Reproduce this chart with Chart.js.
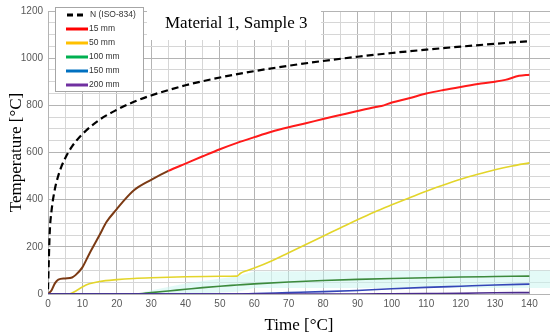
<!DOCTYPE html>
<html>
<head>
<meta charset="utf-8">
<script src="https://cdn.jsdelivr.net/npm/chart.js@4"></script>
<style>
    html, body { margin: 0; padding: 0; background: #fff; }
    #box { width: 550px; height: 336px; }
</style>
</head>
<body>
<div id="box"><canvas id="chart"></canvas></div>
<script>
var seriesNames = ['N (ISO-834)', '15 mm', '50 mm', '100 mm', '150 mm', '200 mm'];
var lineColors = ['#000000', '#ff1a1a', '#e3d52a', '#3c8a3c', '#3446b8', '#4a2a8c'];
var legendColors = ['#000000', '#ff0000', '#ffc000', '#00b050', '#0070c0', '#7030a0'];

var isoTime = [0, 0.5, 1, 2, 3, 4, 5, 7, 10, 15, 20, 25, 30, 40, 50, 60, 70, 80, 90, 100, 110, 120, 130, 140];
var isoTemp = [20, 260, 349, 445, 502, 544, 576, 626, 678, 739, 781, 815, 842, 885, 918, 945, 968, 988, 1006, 1022, 1036, 1049, 1061, 1072];

var t15Time = [0, 1, 2, 3, 5, 7, 8, 10, 12, 15, 17, 20, 22, 25, 30, 35, 40, 45, 50, 55, 60, 65, 70, 75, 80, 85, 90, 95, 97, 100, 105, 110, 115, 120, 125, 130, 133, 137, 140];
var t15Temp = [0, 15, 45, 61, 66, 70, 80, 113, 170, 250, 305, 360, 395, 440, 484, 522, 553, 584, 614, 641, 665, 688, 707, 724, 742, 759, 776, 792, 797, 812, 830, 850, 865, 878, 890, 900, 908, 925, 930];

var t50Time = [0, 6, 8, 10, 12, 15, 20, 25, 30, 40, 50, 55, 56, 58, 60, 65, 70, 75, 80, 85, 90, 95, 100, 105, 110, 115, 120, 125, 130, 135, 140];
var t50Temp = [0, 0, 12, 30, 43, 53, 61, 66, 69, 73, 75, 76, 88, 100, 110, 140, 175, 210, 245, 280, 315, 348, 378, 407, 436, 462, 487, 508, 527, 543, 556];

var t100Time = [0, 25, 30, 35, 40, 45, 50, 55, 60, 70, 80, 90, 100, 110, 120, 130, 140];
var t100Temp = [0, 0, 6, 13, 20, 27, 33, 38, 43, 51, 57, 62, 66, 69, 72, 74, 76];

var t150Time = [0, 55, 60, 70, 80, 90, 100, 110, 120, 130, 140];
var t150Temp = [0, 0, 2, 6, 10, 15, 22, 28, 33, 38, 42];

var t200Time = [0, 90, 100, 110, 120, 130, 140];
var t200Temp = [0, 0, 1, 2, 3, 5, 6];

// faint cyan haze around the 100 mm curve in the scan
var hazeTime = [28, 40, 55, 60, 140, 146];
var hazeTop = [10, 45, 75, 95, 100, 100];
var hazeBottom = [0, 0, 10, 25, 25, 25];

var xTicks = [0, 10, 20, 30, 40, 50, 60, 70, 80, 90, 100, 110, 120, 130, 140];
var yTicks = [0, 200, 400, 600, 800, 1000, 1200];

var chartTitle = 'Material 1, Sample 3';
var xTitle = 'Time [°C]';
var yTitle = 'Temperature [°C]';

function points(xs, ys) {
    return xs.map((x, i) => ({ x: x, y: ys[i] }));
}

var allTimes = [isoTime, t15Time, t50Time, t100Time, t150Time, t200Time];
var allTemps = [isoTemp, t15Temp, t50Temp, t100Temp, t150Temp, t200Temp];

// draw order: thin lines at the bottom, red and iso on top
var datasets = seriesNames.map((name, i) => ({
    label: name,
    data: points(allTimes[i], allTemps[i]),
    borderColor: lineColors[i],
    borderWidth: i == 0 ? 2.2 : (i == 1 ? 2 : 1.6),
    borderDash: i == 0 ? [7, 4] : [],
    pointRadius: 0,
    fill: false,
    cubicInterpolationMode: 'monotone',
    order: i == 5 ? 0 : (i == 0 ? 1 : 6 - i + 1)
}));

// early part of the 15 mm curve looks brown in the picture
datasets[1].segment = {
    borderColor: ctx => ctx.p1.parsed.x <= 35 ? '#7b3a14' : undefined
};

datasets.push({
    label: 'hazeBottom',
    data: points(hazeTime, hazeBottom),
    borderWidth: 0,
    pointRadius: 0,
    fill: false,
    order: 20
});
datasets.push({
    label: 'hazeTop',
    data: points(hazeTime, hazeTop),
    borderWidth: 0,
    pointRadius: 0,
    backgroundColor: 'rgba(200, 245, 240, 0.5)',
    fill: '-1',
    order: 20
});

var boxes = {
    id: 'boxes',
    beforeDatasetsDraw(chart) {
        var ctx = chart.ctx;
        ctx.save();

        // legend box
        ctx.fillStyle = '#fff';
        ctx.fillRect(55, 7, 88, 84);
        ctx.strokeStyle = '#a6a6a6';
        ctx.lineWidth = 1;
        ctx.strokeRect(55.5, 7.5, 88, 84);
        ctx.font = '8.5px "Liberation Sans", Arial, sans-serif';
        ctx.textBaseline = 'middle';
        seriesNames.forEach((name, i) => {
            var y = 15 + i * 14;
            ctx.beginPath();
            ctx.strokeStyle = legendColors[i];
            ctx.lineWidth = 3;
            ctx.setLineDash(i == 0 ? [6, 4] : []);
            ctx.moveTo(i == 0 ? 67 : 66, y);
            ctx.lineTo(i == 0 ? 86 : 88, y);
            ctx.stroke();
            ctx.setLineDash([]);
            ctx.fillStyle = '#333';
            ctx.fillText(name, i == 0 ? 90 : 89, y);
        });

        // title box
        ctx.fillStyle = '#fff';
        ctx.fillRect(147, 8, 174, 32);
        ctx.fillStyle = '#000';
        ctx.font = '17px "Liberation Serif", "DejaVu Serif", serif';
        ctx.textBaseline = 'middle';
        ctx.fillText(chartTitle, 165, 24);
        ctx.restore();
    }
};

var config = {
    type: 'line',
    data: { datasets: datasets },
    options: {
        responsive: false,
        animation: false,
        layout: { padding: { top: 6, left: 6, right: 0, bottom: 0 } },
        plugins: {
            legend: { display: false },
            tooltip: { enabled: false }
        },
        scales: {
            x: {
                type: 'linear',
                min: 0,
                max: 146,
                afterBuildTicks: axis => {
                    axis.ticks = axis.ticks.filter(t => t.value <= 140);
                },
                afterFit: axis => { axis.height = 42; },
                ticks: {
                    stepSize: 5,
                    padding: 4,
                    maxRotation: 0,
                    autoSkip: false,
                    color: '#595959',
                    font: { family: '"Liberation Sans", Arial, sans-serif', size: 10 },
                    callback: v => xTicks.includes(v) ? v : ''
                },
                grid: {
                    drawTicks: false,
                    color: c => c.tick && c.tick.value % 10 == 0 ? '#b4b4b4' : '#d6d6d6'
                },
                border: { color: '#b4b4b4' },
                title: {
                    display: true,
                    text: xTitle,
                    color: '#000',
                    padding: { top: 4, bottom: 0 },
                    font: { family: '"Liberation Serif", "DejaVu Serif", serif', size: 17 }
                }
            },
            y: {
                min: 0,
                max: 1200,
                afterFit: axis => { axis.width = 42; },
                ticks: {
                    stepSize: 50,
                    padding: 5,
                    autoSkip: false,
                    color: '#595959',
                    font: { family: '"Liberation Sans", Arial, sans-serif', size: 10 },
                    callback: v => yTicks.includes(v) ? v : ''
                },
                grid: {
                    drawTicks: false,
                    color: c => c.tick && c.tick.value % 200 == 0 ? '#b4b4b4' : '#d6d6d6'
                },
                border: { color: '#b4b4b4' },
                title: {
                    display: true,
                    text: yTitle,
                    color: '#000',
                    padding: { top: 0, bottom: 0 },
                    font: { family: '"Liberation Serif", "DejaVu Serif", serif', size: 17 }
                }
            }
        }
    },
    plugins: [boxes]
};

var chart;
window.onload = () => {
    var canvas = document.getElementById('chart');
    canvas.width = 550;
    canvas.height = 336;
    chart = new Chart(canvas, config);
};
</script>
</body>
</html>
